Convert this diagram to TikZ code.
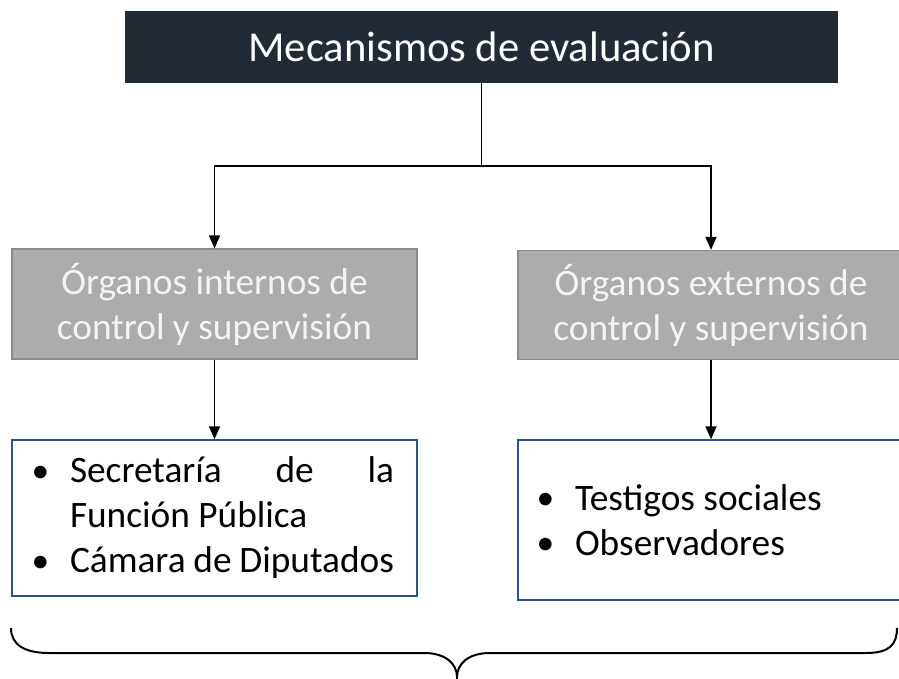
\documentclass[tikz,border=0pt]{standalone}
\usepackage{fontspec}
\setmainfont{Carlito}
\usetikzlibrary{arrows.meta}
\definecolor{titlebg}{HTML}{222A35}
\definecolor{graybg}{HTML}{AEABAB}
\definecolor{grayline}{HTML}{8A8A8A}
\definecolor{bluebox}{HTML}{2F528F}
\definecolor{lighttext}{HTML}{F4F4F4}
\hyphenpenalty=10000
\exhyphenpenalty=10000
\tolerance=10000
\tikzset{
  titlebox/.style={rectangle, fill=titlebg, text=white, inner sep=0pt,
    minimum width=534.75pt, minimum height=54pt, font=\fontsize{32}{38}\selectfont},
  graybox/.style={rectangle, fill=graybg, draw=grayline, line width=0.9pt, text=lighttext,
    inner sep=0pt, align=flush center, font=\fontsize{28}{33.75}\selectfont},
  listbox/.style={rectangle, draw=bluebox, line width=1.1pt, text=black, inner ysep=0pt,
    font=\fontsize{28}{33.75}\selectfont},
  conn/.style={line width=1.2pt, draw=black},
  arr/.style={conn, -{Triangle[length=9.75pt, width=8.25pt]}},
  bracestyle/.style={line width=1.5pt, draw=black}
}
\newcommand{\bul}{\makebox[26.25pt][l]{\hspace{-2.5pt}\raisebox{0.6pt}{\scalebox{0.95}{•}}}}
\begin{document}
\begin{tikzpicture}[x=0.75pt, y=-0.75pt]
\useasboundingbox (0,0) rectangle (899,678);
\clip (0,0) rectangle (899,678);
\fill[white] (0,0) rectangle (899,678);

\node[titlebox] (title) at (481.5,47) {Mecanismos de evaluación};

\node[graybox, minimum width=303.75pt, minimum height=82.5pt, text width=292.5pt] (gl) at (214.5,304)
  {Órganos internos de\\control y supervisión};
\node[graybox, minimum width=289.5pt, minimum height=81.75pt, text width=282pt] (gr) at (711,305)
  {Órganos externos de\\control y supervisión};

\node[listbox, minimum width=303.75pt, minimum height=117pt, inner xsep=17.25pt, text width=269.25pt, align=justify] (wl) at (214.5,518)
  {\hangindent=26.25pt \hangafter=1 \bul Secretaría de la Función Pública\par
   \hangindent=26.25pt \hangafter=1 \bul Cámara de Diputados\par};
\node[listbox, minimum width=289.5pt, minimum height=120pt, inner xsep=16.5pt, text width=256.5pt, align=flush left] (wr) at (711,520)
  {\bul Testigos sociales\par
   \bul Observadores\par};

\coordinate (j) at (481.5,166);
\draw[conn] (title.south) -- (j);
\draw[arr] (j) -| (gl.north);
\draw[arr] (j) -| (gr.north);
\draw[arr] (gl.south) -- (wl.north);
\draw[arr] (gr.south) -- (wr.north);

\draw[bracestyle] (11,628) .. controls (11,645) and (25,653) .. (49,653)
  -- (424,653) .. controls (446,653) and (457,664) .. (457,677)
  .. controls (457,664) and (468,653) .. (490,653)
  -- (866,653) .. controls (889,653) and (897,645) .. (897,628);
\end{tikzpicture}
\end{document}
